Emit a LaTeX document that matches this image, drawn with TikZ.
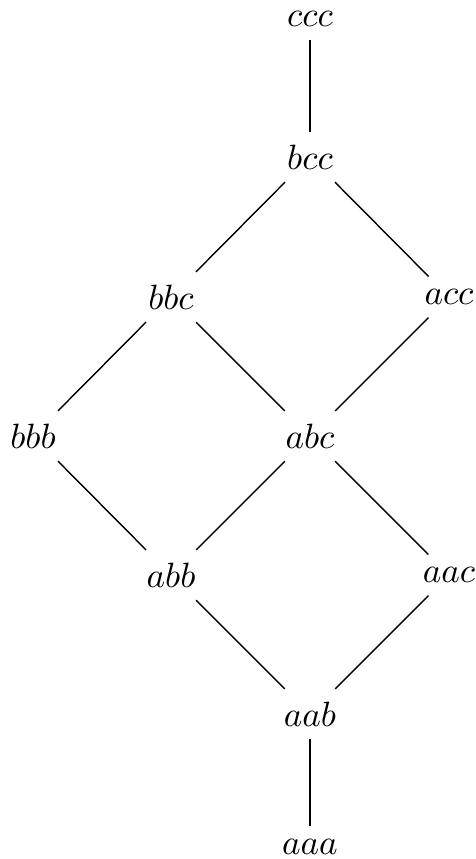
\documentclass[tikz,border=0pt]{standalone}
\begin{document}
\begin{tikzpicture}[word/.style={inner sep=3.5pt}]
  \useasboundingbox (0,0) rectangle (4.76,-8.59);
  % top chain
  \node[word] (ccc) at (3.10,-0.19) {$ccc$};
  \node[word] (bcc) at (3.10,-1.57) {$bcc$};
  % second row
  \node[word] (bbc) at (1.71,-2.97) {$bbc$};
  \node[word] (acc) at (4.49,-2.97) {$acc$};
  % middle row
  \node[word] (bbb) at (0.33,-4.36) {$bbb$};
  \node[word] (abc) at (3.10,-4.36) {$abc$};
  % fourth row
  \node[word] (abb) at (1.71,-5.75) {$abb$};
  \node[word] (aac) at (4.49,-5.75) {$aac$};
  % bottom chain
  \node[word] (aab) at (3.10,-7.14) {$aab$};
  \node[word] (aaa) at (3.10,-8.47) {$aaa$};
  \draw (ccc) -- (bcc);
  \draw (bcc) -- (bbc);
  \draw (bcc) -- (acc);
  \draw (bbc) -- (bbb);
  \draw (bbc) -- (abc);
  \draw (acc) -- (abc);
  \draw (bbb) -- (abb);
  \draw (abc) -- (abb);
  \draw (abc) -- (aac);
  \draw (abb) -- (aab);
  \draw (aac) -- (aab);
  \draw (aab) -- (aaa);
\end{tikzpicture}
\end{document}
